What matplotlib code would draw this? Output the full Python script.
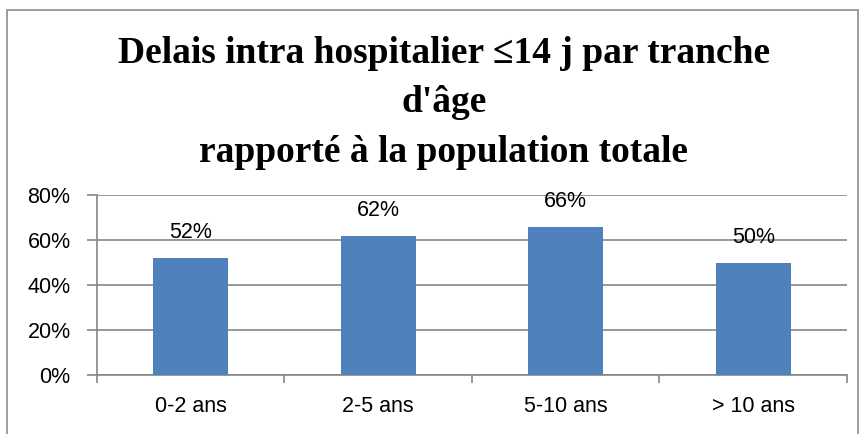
import matplotlib.pyplot as plt
from matplotlib.patches import Rectangle
from matplotlib.ticker import PercentFormatter

# Chart data
categories = ['0-2 ans', '2-5 ans', '5-10 ans', '> 10 ans']
values = [0.52, 0.62, 0.66, 0.50]
title = "Delais intra hospitalier ≤14 j par tranche\nd'âge\nrapporté à la population totale"

bar_color = '#4F81BD'
grid_color = '#868686'
fsize = 15.5

fig = plt.figure(figsize=(8.62, 4.34), dpi=100)

# Excel-like chart border
fig.patches.append(Rectangle((7 / 862, -0.05), 851 / 862, 1 - 10 / 434 + 0.05,
                             transform=fig.transFigure, fill=False,
                             edgecolor='#8c8c8c', linewidth=1.2))

ax = fig.add_axes([97 / 862, 1 - 375 / 434, 750 / 862, 180 / 434])

x = list(range(len(categories)))
bars = ax.bar(x, values, width=0.4, color=bar_color, zorder=3)

for xi, v in zip(x, values):
    ax.annotate(f"{v:.0%}", (xi, v), xytext=(0, 18), textcoords='offset points',
                ha='center', va='center', fontsize=fsize, family='Liberation Sans',
                zorder=4)

ax.set_xlim(-0.5, len(categories) - 0.5)
ax.set_ylim(0, 0.8)
ax.set_yticks([0, 0.2, 0.4, 0.6, 0.8])
ax.yaxis.set_major_formatter(PercentFormatter(1.0, decimals=0))
ax.yaxis.grid(True, color=grid_color, linewidth=1.2, zorder=0)

ax.set_xticks(x)
ax.set_xticklabels(categories)
ax.set_xticks([i - 0.5 for i in range(len(categories) + 1)], minor=True)
ax.tick_params(axis='x', which='major', length=0, pad=15)
ax.tick_params(axis='x', which='minor', length=6, color=grid_color, width=1.2)
ax.tick_params(axis='y', length=7, color=grid_color, width=1.2, pad=12)
for lbl in ax.get_xticklabels() + ax.get_yticklabels():
    lbl.set_fontsize(fsize)
    lbl.set_family('Liberation Sans')

for side in ['top', 'right']:
    ax.spines[side].set_visible(False)
for side in ['left', 'bottom']:
    ax.spines[side].set_color(grid_color)
    ax.spines[side].set_linewidth(1.2)

fig.text(444 / 862, 1 - 103 / 434, title, ha='center', va='center',
         fontsize=27, fontweight='bold', family='Liberation Serif',
         linespacing=1.55)

fig.savefig('out.png', dpi=100)
